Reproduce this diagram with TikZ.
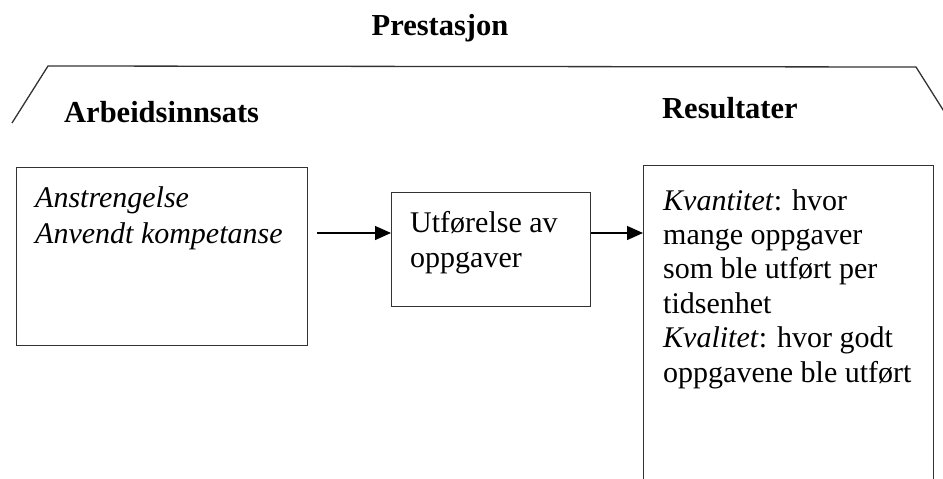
\documentclass[tikz,border=0pt]{standalone}
\usepackage{fontspec}
\setmainfont{Liberation Serif}
\usetikzlibrary{arrows.meta}
\begin{document}
\begin{tikzpicture}[x=1pt,y=-1pt,
  box/.style={draw=black!80, line width=1.3pt, inner sep=0pt, anchor=north west},
  txt/.style={font=\fontsize{30}{35}\selectfont, align=left, inner sep=0pt, anchor=base west},
  itxt/.style={txt, font=\fontsize{30}{36}\selectfont\itshape},
  rtxt/.style={txt, font=\fontsize{30}{34.4}\selectfont},
  head/.style={font=\fontsize{30.5}{36}\selectfont\bfseries, inner sep=0pt, anchor=base west},
  arr/.style={line width=1.3pt, -{Triangle[length=16pt,width=14pt]}}]
\clip (0,0) rectangle (943,479);
% bracket
\coordinate (b1) at (12,123);
\coordinate (b2) at (48,66);
\coordinate (b3) at (916,67);
\coordinate (b4) at (952,124);
\draw[line width=1.3pt, black!80] (b1) -- (b2) -- (b3) -- (b4);
% headings
\node[head, anchor=base] (h0) at (440,35) {Prestasjon};
\node[head] (h1) at (64,122) {Arbeidsinnsats};
\node[head] (h2) at (662,118) {Resultater};
% boxes
\node[box, minimum width=291pt, minimum height=178pt] (left) at (16,167) {};
\node[box, minimum width=199pt, minimum height=114pt] (mid) at (391,192) {};
\node[box, minimum width=290pt, minimum height=340pt] (right) at (643,165) {};
% texts (anchored at the baseline of their last line)
\node[itxt] (t1) at (35,243) {Anstrengelse\\Anvendt kompetanse};
\node[txt] (t2) at (410,267) {Utførelse av\\oppgaver};
\node[rtxt] (t3) at (663,382) {\textit{Kvantitet}: hvor\\mange oppgaver\\som ble utført per\\tidsenhet\\\textit{Kvalitet}: hvor godt\\oppgavene ble utført};
% arrows
\coordinate (a0) at (317,233);
\draw[arr] (a0) -- (a0 -| mid.west);
\draw[arr] (mid.east |- a0) -- (a0 -| right.west);
\end{tikzpicture}
\end{document}
